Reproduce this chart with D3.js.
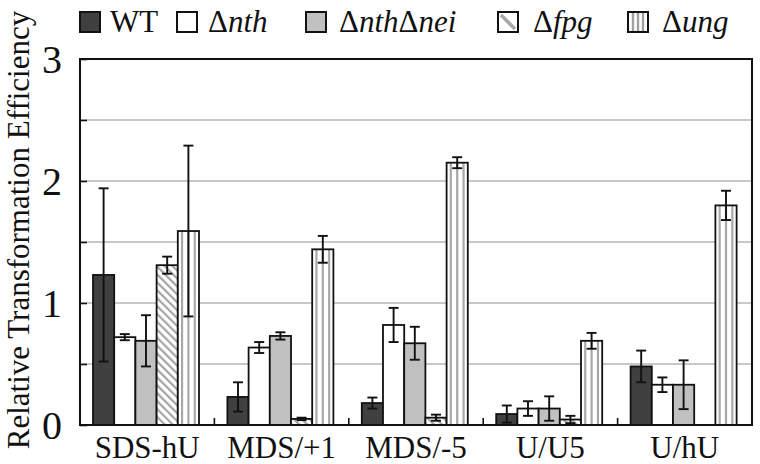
<!DOCTYPE html>
<html><head><meta charset="utf-8">
<script src="https://cdn.jsdelivr.net/npm/d3@7"></script>
<style>
body{margin:0;background:#fff}
svg text, svg tspan{font-family:"Liberation Serif","Times New Roman",serif;}
</style>
</head><body>
<svg id="c" width="760" height="464"></svg>
<script>
const categories = ["SDS-hU","MDS/+1","MDS/-5","U/U5","U/hU"];
const seriesNames = ["WT","nth","nthnei","fpg","ung"];
const WT      = [1.23, 0.23, 0.18, 0.09, 0.48];
const WT_err  = [0.71, 0.12, 0.045, 0.07, 0.13];
const nth     = [0.72, 0.635, 0.82, 0.135, 0.33];
const nth_err = [0.025, 0.045, 0.14, 0.06, 0.06];
const nthnei  = [0.69, 0.73, 0.67, 0.135, 0.33];
const nthnei_err = [0.21, 0.03, 0.135, 0.1, 0.2];
const fpg     = [1.31, 0.05, 0.06, 0.045, null];
const fpg_err = [0.07, 0.01, 0.025, 0.03, null];
const ung     = [1.59, 1.44, 2.15, 0.69, 1.80];
const ung_err = [0.7, 0.11, 0.045, 0.065, 0.12];
const yTicks = [0,1,2,3];
const gridTicks = [0.5,1,1.5,2,2.5];

const FONT = "Liberation Serif";
const values = {WT, nth, nthnei, fpg, ung};
const errs = {WT:WT_err, nth:nth_err, nthnei:nthnei_err, fpg:fpg_err, ung:ung_err};

const svg = d3.select("#c");
const defs = svg.append("defs");
const hatch = defs.append("pattern").attr("id","hatch").attr("patternUnits","userSpaceOnUse")
  .attr("width",5.6).attr("height",5.6).attr("patternTransform","rotate(-45)");
hatch.append("rect").attr("width",5.6).attr("height",5.6).attr("fill","#fff");
hatch.append("rect").attr("x",0).attr("width",2.2).attr("height",5.6).attr("fill","#a4a4a4");

const fills = {WT:"#404040", nth:"#ffffff", nthnei:"#c0c0c0", fpg:"url(#hatch)", ung:"#ffffff"};

const L=80, R=752, T=59, B=425;
const x0 = d3.scaleBand().domain(categories).range([L,R]).paddingInner(0).paddingOuter(0);
const x1 = d3.scaleBand().domain(seriesNames).range([13, 119]).padding(0);
const y = d3.scaleLinear().domain([0,3]).range([B,T]);

// gridlines
svg.append("g").selectAll("line").data(gridTicks).join("line")
  .attr("x1",L).attr("x2",R).attr("y1",d=>y(d)).attr("y2",d=>y(d))
  .attr("stroke","#c8c8c8").attr("stroke-width",2);

function stripes(sel, bx, by, bw, bh, frac, sw, color){
  frac.forEach(f=>sel.append("rect").attr("x",bx+bw*f-sw/2).attr("y",by).attr("width",sw).attr("height",bh).attr("fill",color));
}

// bars
const g = svg.append("g");
categories.forEach((c,i)=>{
  seriesNames.forEach(s=>{
    const v = values[s][i];
    if (v==null) return;
    const bx = x0(c)+x1(s), bw = x1.bandwidth(), by=y(v), bh=y(0)-y(v);
    g.append("rect").attr("x",bx).attr("y",by).attr("width",bw).attr("height",bh).attr("fill",fills[s]);
    if (s==="ung") stripes(g,bx,by,bw,bh,[0.2,0.5,0.8],2.2,"#a8a8a8");
    g.append("rect").attr("x",bx).attr("y",by).attr("width",bw).attr("height",bh)
      .attr("fill","none").attr("stroke","#111").attr("stroke-width",1.8);
  });
});
// error bars
categories.forEach((c,i)=>{
  seriesNames.forEach(s=>{
    const v = values[s][i], e = errs[s][i];
    if (v==null) return;
    const cx = x0(c)+x1(s)+x1.bandwidth()/2;
    const lo = y(Math.max(0,v-e)), hi = y(v+e);
    const eg = g.append("g").attr("stroke","#111").attr("stroke-width",1.9);
    eg.append("line").attr("x1",cx).attr("x2",cx).attr("y1",hi).attr("y2",lo);
    eg.append("line").attr("x1",cx-5).attr("x2",cx+5).attr("y1",hi).attr("y2",hi);
    eg.append("line").attr("x1",cx-5).attr("x2",cx+5).attr("y1",lo).attr("y2",lo);
  });
});

// frame
svg.append("rect").attr("x",L).attr("y",T).attr("width",R-L).attr("height",B-T)
  .attr("fill","none").attr("stroke","#111").attr("stroke-width",2);

// y axis
const yAxis = d3.axisLeft(y).tickValues(gridTicks.concat([0,3])).tickSize(-7).tickFormat(d=>yTicks.includes(d)?d:"");
const ya = svg.append("g").attr("transform",`translate(${L},0)`).call(yAxis);
ya.attr("font-family",null);
ya.select(".domain").remove();
ya.selectAll(".tick line").attr("stroke","#111").attr("stroke-width",1.6);
ya.selectAll(".tick text").attr("x",-18).attr("dy","0.34em").attr("font-size",40).attr("fill","#111")
  .attr("font-family",FONT).style("font-family",FONT);

// x axis
const xa = svg.append("g").attr("transform",`translate(0,${B})`).call(d3.axisBottom(x0).tickSize(0).tickPadding(0));
xa.attr("font-family",null);
xa.select(".domain").remove();
xa.selectAll(".tick text").attr("y",33).attr("dy",0).attr("font-size",31).attr("fill","#111")
  .attr("font-family",FONT).style("font-family",FONT);
svg.append("g").selectAll("line").data(categories.slice(1)).join("line")
  .attr("x1",d=>x0(d)).attr("x2",d=>x0(d)).attr("y1",B).attr("y2",B-7)
  .attr("stroke","#111").attr("stroke-width",1.6);

// y label
svg.append("text").attr("transform",`translate(28.5,230) rotate(-90)`)
  .attr("text-anchor","middle").attr("font-size",31).attr("fill","#111")
  .attr("font-family",FONT).style("font-family",FONT)
  .text("Relative Transformation Efficiency");

// legend
const legendItems = [
  {s:"WT", x:80, tx:110, parts:[["WT",false]]},
  {s:"nth", x:177, tx:208, parts:[["Δ",false],["nth",true]]},
  {s:"nthnei", x:306, tx:339, parts:[["Δ",false],["nth",true],["Δ",false],["nei",true]]},
  {s:"fpg", x:498, tx:533, parts:[["Δ",false],["fpg",true]]},
  {s:"ung", x:628, tx:662, parts:[["Δ",false],["ung",true]]}
];
const lg = svg.append("g");
legendItems.forEach(it=>{
  const sx=it.x, sy=12, sw=20, sh=20;
  lg.append("rect").attr("x",sx).attr("y",sy).attr("width",sw).attr("height",sh)
    .attr("fill",it.s==="fpg"||it.s==="ung"?"#fff":fills[it.s]);
  if (it.s==="ung") stripes(lg,sx,sy,sw,sh,[0.25,0.5,0.75],2.4,"#a0a0a0");
  if (it.s==="fpg") lg.append("line").attr("x1",sx+3).attr("y1",sy+3).attr("x2",sx+sw-3).attr("y2",sy+sh-3)
    .attr("stroke","#a8a8a8").attr("stroke-width",3.5);
  lg.append("rect").attr("x",sx).attr("y",sy).attr("width",sw).attr("height",sh)
    .attr("fill","none").attr("stroke","#111").attr("stroke-width",2);
  const t = lg.append("text").attr("x",it.tx).attr("y",32).attr("font-size",31).attr("fill","#111")
    .attr("font-family",FONT).style("font-family",FONT);
  it.parts.forEach(p=>t.append("tspan").attr("font-style",p[1]?"italic":"normal").text(p[0]));
});
</script>
</body></html>
